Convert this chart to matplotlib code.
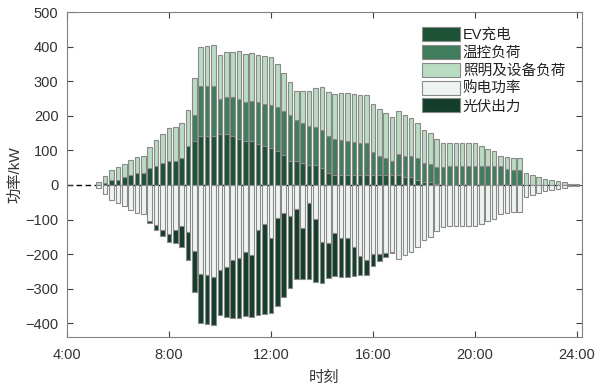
import numpy as np
import matplotlib
matplotlib.use("Agg")
import matplotlib.pyplot as plt
from matplotlib.patches import Patch

plt.rcParams['font.family'] = ['Liberation Sans', 'Noto Sans CJK SC']

# time slots (hours), 15-min resolution from 4:15 to 24:00
times = np.arange(4.25, 24.001, 0.25)

ev = [0, 0, 0, 0,
      0, 7, 13, 14, 22, 29, 36, 36, 49, 56, 64, 69, 69, 78, 113, 127,
      141, 141, 141, 147, 147, 141, 132, 127, 127, 119, 113, 106, 98, 87, 70, 70,
      63, 57, 57, 48, 35, 29, 29, 29, 29, 29, 29, 29, 29, 29, 29, 29,
      22, 22, 14, 9, 9, 3, 0, 0, 0, 0, 0, 0, 0, 0, 0, 0,
      0, 0, 0, 0, 0, 0, 0, 0, 0, 0, 0, 0]

thermal = [0, 0, 0, 0,
           0, 0, 0, 0, 0, 0, 0, 0, 0, 0, 0, 0, 0, 0, 0, 75,
           145, 145, 145, 103, 107, 113, 118, 113, 115, 120, 122, 124, 127, 127, 131, 119,
           116, 113, 110, 111, 106, 103, 100, 97, 94, 91, 91, 65, 56, 49, 40, 62,
           63, 63, 64, 55, 52, 50, 51, 55, 55, 55, 55, 55, 55, 55, 55, 55,
           46, 43, 43, 0, 0, 0, 0, 0, 0, 0, 0, 0]

lighting = [0, 0, 0, 0,
            10, 19, 29, 37, 40, 42, 45, 49, 61, 73, 83, 95, 99, 100, 105, 108,
            113, 117, 120, 125, 129, 130, 136, 140, 139, 138, 139, 139, 124, 111, 97, 82,
            92, 103, 114, 123, 127, 131, 136, 140, 141, 141, 139, 139, 135, 131, 128, 123,
            116, 108, 101, 95, 88, 80, 71, 65, 65, 65, 65, 65, 57, 50, 42, 30,
            36, 36, 36, 36, 29, 24, 18, 14, 11, 8, 4, 2]

purchase = [0, 0, 0, 0,
            10, 26, 42, 51, 62, 71, 81, 85, 104, 115, 130, 142, 130, 118, 137, 191,
            257, 260, 266, 245, 238, 218, 212, 193, 202, 130, 113, 153, 95, 82, 89, 69,
            123, 52, 99, 164, 167, 139, 153, 153, 179, 206, 216, 199, 199, 197, 193, 214,
            201, 193, 179, 159, 149, 133, 122, 120, 120, 120, 120, 120, 112, 105, 97, 85,
            82, 79, 79, 36, 29, 24, 18, 14, 11, 8, 4, 2]

pv = [0, 0, 0, 0,
      0, 0, 0, 0, 0, 0, 0, 0, 6, 14, 17, 22, 38, 60, 81, 119,
      142, 143, 140, 130, 145, 166, 174, 187, 179, 247, 261, 216, 254, 243, 209, 202,
      148, 221, 182, 118, 101, 124, 112, 113, 85, 55, 43, 34, 21, 12, 4, 0,
      0, 0, 0, 0, 0, 0, 0, 0, 0, 0, 0, 0, 0, 0, 0, 0,
      0, 0, 0, 0, 0, 0, 0, 0, 0, 0, 0, 0]

labels = ['EV充电', '温控负荷', '照明及设备负荷', '购电功率', '光伏出力']
colors = ['#1d5236', '#3f7d5c', '#b9dcc2', '#eef5f0', '#143d2b']

ev = np.array(ev, float)
thermal = np.array(thermal, float)
lighting = np.array(lighting, float)
purchase = np.array(purchase, float)
pv = np.array(pv, float)

fig = plt.figure(figsize=(5.97, 3.88), dpi=100)
ax = fig.add_axes([0.112, 0.131, 0.863, 0.838])

w = 0.18
ec = '#8a8a8a'
lw = 0.8


def edges(vals):
    return [ec if v > 0 else 'none' for v in vals]


ax.axhline(0, color='black', ls=(0, (4, 2.5)), lw=1.0, zorder=1)
ax.bar(times, ev, w, color=colors[0], edgecolor=edges(ev), linewidth=lw, zorder=2)
ax.bar(times, thermal, w, bottom=ev, color=colors[1], edgecolor=edges(thermal), linewidth=lw, zorder=2)
ax.bar(times, lighting, w, bottom=ev + thermal, color=colors[2], edgecolor=edges(lighting), linewidth=lw, zorder=2)
ax.bar(times, -purchase, w, color=colors[3], edgecolor=edges(purchase), linewidth=lw, zorder=2)
ax.bar(times, -pv, w, bottom=-purchase, color=colors[4], edgecolor=edges(pv), linewidth=lw, zorder=2)

ax.set_xlim(4, 24.2)
ax.set_ylim(-440, 500)
ax.set_xticks([4, 8, 12, 16, 20, 24])
ax.set_xticklabels(['4:00', '8:00', '12:00', '16:00', '20:00', '24:00'])
ax.set_yticks(np.arange(-400, 501, 100))
ax.tick_params(direction='in', top=True, right=True, length=4, width=0.8,
               colors='#404040', labelsize=10.5, labelcolor='#333333')
ax.tick_params(axis='x', pad=8)
ax.tick_params(axis='y', pad=6)
for s in ax.spines.values():
    s.set_color('#808080')
    s.set_linewidth(0.8)

ax.set_xlabel('时刻', fontsize=11, color='#333333', labelpad=6)
ax.set_ylabel('功率/kW', fontsize=11, color='#333333', labelpad=2)

handles = [Patch(facecolor=c, edgecolor=ec, linewidth=lw) for c in colors]
leg = ax.legend(handles, labels, loc='upper right', bbox_to_anchor=(0.99, 0.99),
                frameon=False, fontsize=10.5, handlelength=2.6, handleheight=1.1,
                labelspacing=0.2, handletextpad=0.2, borderpad=0.3)
for t in leg.get_texts():
    t.set_color('#222222')

fig.savefig('out.png', dpi=100)
